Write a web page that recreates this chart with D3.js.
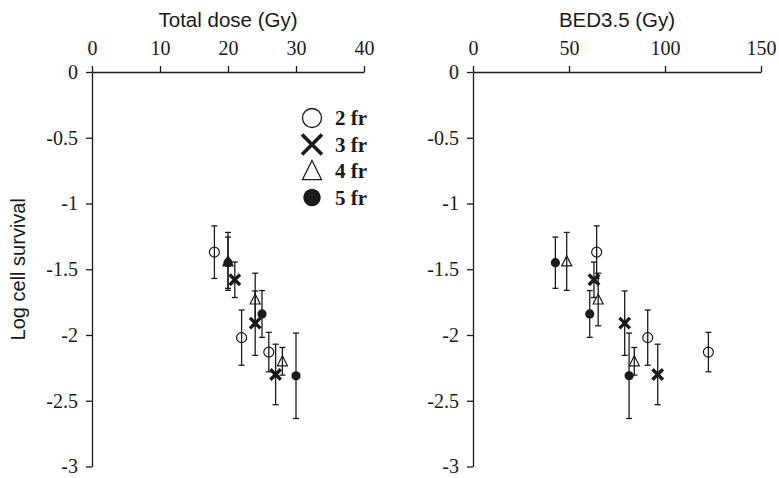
<!DOCTYPE html>
<html>
<head>
<meta charset="utf-8">
<script src="https://cdn.jsdelivr.net/npm/d3@7"></script>
<style>
  body { margin: 0; background: #fff; }
  svg { display: block; }
</style>
</head>
<body>
<svg id="chart" width="779" height="478"></svg>
<script>
// fraction groups
const groups = ["2 fr", "3 fr", "4 fr", "5 fr"];
const markers = ["openCircle", "cross", "triangle", "dot"];

// total dose (Gy) per group
const dose2 = [18, 22, 26];
const dose3 = [21, 24, 27];
const dose4 = [20, 24, 28];
const dose5 = [20, 25, 30];

// BED3.5 (Gy) per group
const bed2 = [64.4, 91, 122.6];
const bed3 = [63, 79, 96.2];
const bed4 = [48.8, 65.2, 84];
const bed5 = [42.9, 60.8, 81.3];

// log cell survival and error half-widths
const surv2 = [-1.37, -2.02, -2.13];
const surv3 = [-1.58, -1.91, -2.30];
const surv4 = [-1.44, -1.73, -2.20];
const surv5 = [-1.45, -1.84, -2.31];
const err2 = [0.20, 0.21, 0.15];
const err3 = [0.135, 0.245, 0.23];
const err4 = [0.22, 0.20, 0.105];
const err5 = [0.195, 0.178, 0.325];

const yTicks = [0, -0.5, -1, -1.5, -2, -2.5, -3];
const doseTicks = [0, 10, 20, 30, 40];
const bedTicks = [0, 50, 100, 150];

const doses = [dose2, dose3, dose4, dose5];
const beds = [bed2, bed3, bed4, bed5];
const survs = [surv2, surv3, surv4, surv5];
const errs = [err2, err3, err4, err5];

const svg = d3.select("#chart");
const ink = "#1a1a1a";
const serif = "Liberation Serif, Times New Roman, serif";
const sans = "Liberation Sans, Arial, sans-serif";

const y = d3.scaleLinear().domain([0, -3]).range([72, 466.5]);

// draw one marker at (cx, cy) with size s (half width)
function drawMarker(g, type, cx, cy, s, sw) {
  if (type === "openCircle") {
    g.append("circle").attr("cx", cx).attr("cy", cy).attr("r", s)
      .attr("fill", "none").attr("stroke", ink).attr("stroke-width", sw);
  } else if (type === "dot") {
    g.append("circle").attr("cx", cx).attr("cy", cy).attr("r", s * 0.92)
      .attr("fill", ink);
  } else if (type === "triangle") {
    const h = s * 2;
    g.append("path")
      .attr("d", `M${cx},${cy - h * 0.55}L${cx + s},${cy + h * 0.45}L${cx - s},${cy + h * 0.45}Z`)
      .attr("fill", "none").attr("stroke", ink).attr("stroke-width", sw);
  } else {
    const k = s * 1.05;
    g.append("path")
      .attr("d", `M${cx - k},${cy - k}L${cx + k},${cy + k}M${cx - k},${cy + k}L${cx + k},${cy - k}`)
      .attr("stroke", ink).attr("stroke-width", sw * 2.8).attr("fill", "none");
  }
}

function panel(xs, xDomain, xRange, ticks, title) {
  const x = d3.scaleLinear().domain(xDomain).range(xRange);
  const g = svg.append("g");

  const xAxis = g.append("g")
    .attr("transform", `translate(0,${y(0)})`)
    .call(d3.axisTop(x).tickValues(ticks).tickSize(6).tickSizeOuter(0).tickPadding(11));
  const yAxis = g.append("g")
    .attr("transform", `translate(${x(0)},0)`)
    .call(d3.axisLeft(y).tickValues(yTicks).tickSize(6).tickSizeOuter(0).tickPadding(8)
      .tickFormat(d => d === 0 ? "0" : String(d)));

  [xAxis, yAxis].forEach(a => {
    a.attr("font-family", serif).attr("font-size", 20);
    a.select(".domain").attr("stroke", ink).attr("stroke-width", 1.3);
    a.selectAll(".tick line").attr("stroke", ink).attr("stroke-width", 1.3);
    a.selectAll(".tick text").attr("fill", ink)
      .attr("font-family", serif).attr("font-size", 20);
  });

  g.append("text")
    .attr("x", (xRange[0] + xRange[1]) / 2).attr("y", 27)
    .attr("text-anchor", "middle")
    .attr("font-family", sans).attr("font-size", 20.5).attr("fill", ink)
    .text(title);

  groups.forEach((grp, gi) => {
    const gg = g.append("g");
    xs[gi].forEach((xv, i) => {
      const cx = x(xv);
      const lo = y(survs[gi][i] - errs[gi][i]);
      const hi = y(survs[gi][i] + errs[gi][i]);
      gg.append("line").attr("x1", cx).attr("x2", cx).attr("y1", lo).attr("y2", hi)
        .attr("stroke", ink).attr("stroke-width", 1.3);
      [lo, hi].forEach(v => gg.append("line")
        .attr("x1", cx - 3).attr("x2", cx + 3).attr("y1", v).attr("y2", v)
        .attr("stroke", ink).attr("stroke-width", 1.3));
    });
    xs[gi].forEach((xv, i) => {
      drawMarker(gg, markers[gi], x(xv), y(survs[gi][i]), 5, 1.2);
    });
  });
}

panel(doses, [0, 40], [92, 364], doseTicks, "Total dose (Gy)");
panel(beds, [0, 150], [473, 761], bedTicks, "BED3.5 (Gy)");

// y-axis title
svg.append("text")
  .attr("transform", `translate(25,${y(-1.5)}) rotate(-90)`)
  .attr("text-anchor", "middle")
  .attr("font-family", sans).attr("font-size", 20).attr("fill", ink)
  .text("Log cell survival");

// legend
const legend = svg.append("g");
groups.forEach((grp, gi) => {
  const ry = 118 + gi * 26.5;
  drawMarker(legend, markers[gi], 312, ry, 9.5, 1.3);
  legend.append("text")
    .attr("x", 335).attr("y", ry + 7)
    .attr("font-family", serif).attr("font-size", 21).attr("font-weight", "bold")
    .attr("fill", ink).text(grp);
});
</script>
</body>
</html>
